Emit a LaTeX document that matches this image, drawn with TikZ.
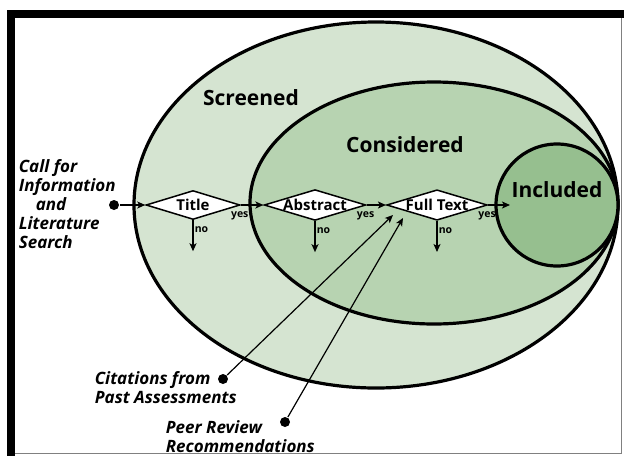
\documentclass[tikz,border=0pt]{standalone}
\usepackage{fontspec}
\setmainfont{Open Sans}
\usepackage{tikz}
\usetikzlibrary{shapes,arrows.meta}
\definecolor{screencol}{HTML}{D5E4D1}
\definecolor{considcol}{HTML}{B7D3B1}
\definecolor{inclcol}{HTML}{96BF8F}
\tikzset{
        >={Stealth[length=8pt,width=7pt,inset=2pt]}, % arrow heads of the flow
        set/.style={draw, line width=3.2pt}, % the nested sets
        gate/.style={diamond, draw, fill=white, line width=1.5pt, shape aspect=3.3,
                inner sep=0pt, minimum width=94pt, minimum height=29pt,
                font=\fontsize{15}{17}\selectfont\bfseries}, % screening steps
        dot/.style={circle, fill=black, inner sep=0pt, minimum size=10pt}, % start points
        stage/.style={font=\fontsize{21}{24}\selectfont\bfseries}, % names of the sets
        small/.style={inner sep=1pt, font=\fontsize{10.5}{12}\selectfont\bfseries}, % yes / no
        src/.style={align=left, inner sep=0pt,
                font=\fontsize{17}{19}\selectfont\bfseries\itshape}, % sources
}
\begin{document}
\begin{tikzpicture}[x=1pt,y=-1pt,line width=1.6pt]
\useasboundingbox (0,0) rectangle (624,456);
% frame
\fill[black] (7,10) rectangle (624,18);
\fill[black] (7,10) rectangle (15,456);
\draw[gray,line width=1pt] (621.5,18) -- (621.5,453) -- (15,453);

% the sets
\filldraw[set,fill=screencol] (376,205) ellipse [x radius=242, y radius=183];
\filldraw[set,fill=considcol] (434,203) ellipse [x radius=184, y radius=121];
\filldraw[set,fill=inclcol] (557,205) circle [radius=61];
\node[stage] (screened) at (251,98) {Screened};
\node[stage] (considered) at (405,145) {Considered};
\node[stage] (included) at (557,190) {Included};

% screening steps
\foreach \x/\n/\t in {193/title/Title,315/abstract/Abstract,437/fulltext/Full Text}
  \node[gate] (\n) at (\x,205) {\t};

\node[dot] (start) at (114,205) {};
\node[src,anchor=west] (call) at (18,204) {Call for\\Information\\\hspace*{17pt}and\\Literature\\Search};
\coordinate (in) at (510,205);
\draw[->] (start) -- (title);
\draw[->] (title) -- (abstract);
\draw[->] (abstract) -- (fulltext);
\draw[->] (fulltext) -- (in);

\foreach \n in {title,abstract,fulltext}{
  \coordinate (\n-no) at ([yshift=-31pt]\n.south);
  \draw[->] (\n.south) -- (\n-no) node[pos=0.3,right,small] {no};
  \node[small,anchor=north] at ([xshift=-1pt,yshift=-5pt]\n.east) {yes};
}

% other sources
\node[dot] (cite) at (223,379) {};
\node[dot] (peer) at (285,422) {};
\coordinate (cite-in) at (393,215);
\coordinate (peer-in) at (403,218);
\draw[->,line width=1.2pt] (cite) -- (cite-in);
\draw[->,line width=1.2pt] (peer) -- (peer-in);
\node[src,anchor=west] (citetext) at (94,388) {Citations from\\Past Assessments};
\node[src,anchor=west] (peertext) at (165,437) {Peer Review\\Recommendations};
\end{tikzpicture}
\end{document}
